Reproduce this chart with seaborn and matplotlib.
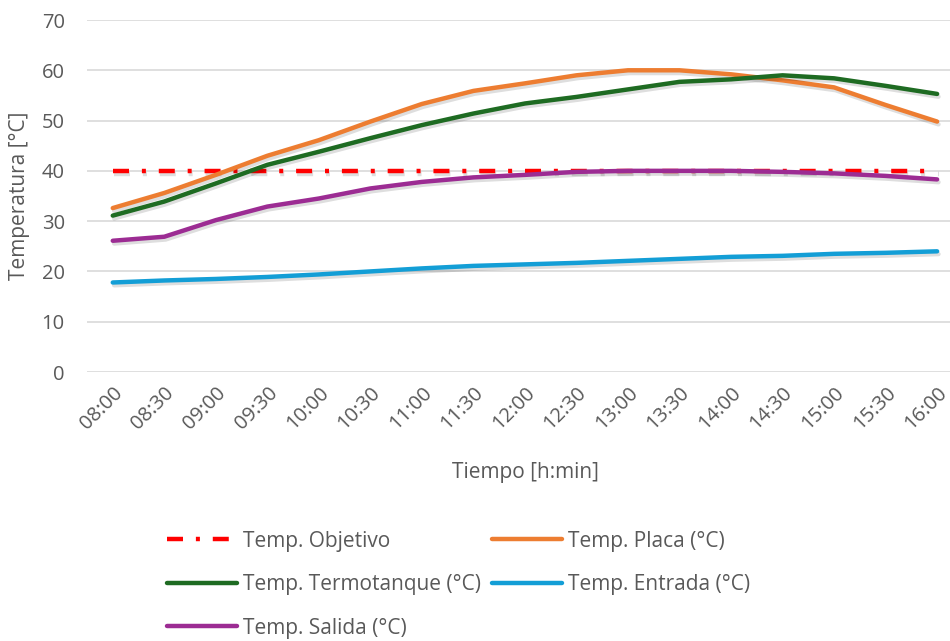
import numpy as np
import pandas as pd
import seaborn as sns
import matplotlib
matplotlib.use("Agg")
import matplotlib.pyplot as plt
import matplotlib.patheffects as pe

horas = ["08:00", "08:30", "09:00", "09:30", "10:00", "10:30", "11:00", "11:30",
         "12:00", "12:30", "13:00", "13:30", "14:00", "14:30", "15:00", "15:30", "16:00"]

temp_objetivo = [40] * 17
temp_placa = [32.6, 35.6, 39.2, 43.0, 46.1, 49.8, 53.3, 55.9,
              57.4, 59.0, 60.0, 60.0, 59.2, 58.0, 56.6, 53.1, 49.8]
temp_termotanque = [31.1, 33.9, 37.5, 41.2, 43.8, 46.5, 49.1, 51.4,
                    53.4, 54.7, 56.2, 57.7, 58.2, 59.0, 58.4, 56.9, 55.3]
temp_entrada = [17.8, 18.2, 18.5, 18.9, 19.4, 20.0, 20.6, 21.1,
                21.4, 21.7, 22.1, 22.5, 22.9, 23.1, 23.5, 23.7, 24.0]
temp_salida = [26.1, 26.9, 30.2, 32.9, 34.5, 36.5, 37.8, 38.7,
               39.2, 39.8, 40.0, 40.0, 40.0, 39.8, 39.5, 39.0, 38.3]

series = {
    "Temp. Objetivo": temp_objetivo,
    "Temp. Placa (°C)": temp_placa,
    "Temp. Termotanque (°C)": temp_termotanque,
    "Temp. Entrada (°C)": temp_entrada,
    "Temp. Salida (°C)": temp_salida,
}
colores = {
    "Temp. Objetivo": "#FF0000",
    "Temp. Placa (°C)": "#ED7D31",
    "Temp. Termotanque (°C)": "#1E6B22",
    "Temp. Entrada (°C)": "#139ED6",
    "Temp. Salida (°C)": "#9C2C93",
}
trazos = {
    "Temp. Objetivo": (3.6, 2.9, 0.9, 2.9),
    "Temp. Placa (°C)": "",
    "Temp. Termotanque (°C)": "",
    "Temp. Entrada (°C)": "",
    "Temp. Salida (°C)": "",
}

pos = np.arange(len(horas))
df = pd.concat(
    [pd.DataFrame({"pos": pos, "Temperatura": vals, "Serie": name})
     for name, vals in series.items()],
    ignore_index=True,
)

sns.set_theme(style="white")
plt.rcParams["font.family"] = ["Open Sans", "DejaVu Sans"]

fig = plt.figure(figsize=(9.5, 6.41), dpi=100)
ax = fig.add_axes([87 / 950, 269 / 641, 863 / 950, 352 / 641])

sns.lineplot(data=df, x="pos", y="Temperatura", hue="Serie", style="Serie",
             palette=colores, dashes=trazos, linewidth=3.2, ax=ax,
             legend=False, sort=False)

sombra = [pe.SimpleLineShadow(offset=(1.0, -2.0), alpha=0.13, shadow_color="black"),
          pe.Normal()]
for ln in ax.get_lines():
    ln.set_path_effects(sombra)
    ln.set_solid_capstyle("round")
    ln.set_dash_capstyle("butt")

ax.set_xlim(-0.5, 16.25)
ax.set_ylim(0, 70)
ax.set_yticks(range(0, 71, 10))
ax.set_xticks(pos)
ax.set_xticklabels(horas, rotation=45, ha="right", rotation_mode="anchor")
ax.tick_params(axis="both", colors="#595959", labelsize=14.5, length=0)
ax.tick_params(axis="y", pad=16)
ax.tick_params(axis="x", pad=8)
ax.grid(axis="y", color="#D9D9D9", linewidth=1.2)
ax.set_axisbelow(True)
for s in ax.spines.values():
    s.set_visible(False)

ax.set_xlabel("Tiempo [h:min]", color="#595959", fontsize=15)
ax.set_ylabel("Temperatura [°C]", color="#595959", fontsize=15)
ax.xaxis.set_label_coords(0.508, -0.255)
ax.yaxis.set_label_coords(-0.066, 0.5)

handles = []
for name in series:
    handles.append(plt.Line2D([], [], color=colores[name], linewidth=3.2,
                              dashes=trazos[name] if trazos[name] else (None, None),
                              solid_capstyle="round", dash_capstyle="butt"))
names = list(series.keys())
orden = [0, 2, 4, 1, 3]
leg = fig.legend([handles[i] for i in orden], [names[i] for i in orden],
                 ncol=2, loc="upper left", bbox_to_anchor=(148 / 950, 1 - 512 / 641),
                 frameon=False, fontsize=15, handlelength=3.37, handletextpad=0.3,
                 columnspacing=0.5, labelspacing=1.08, labelcolor="#595959")

fig.savefig("out.png", dpi=100)
